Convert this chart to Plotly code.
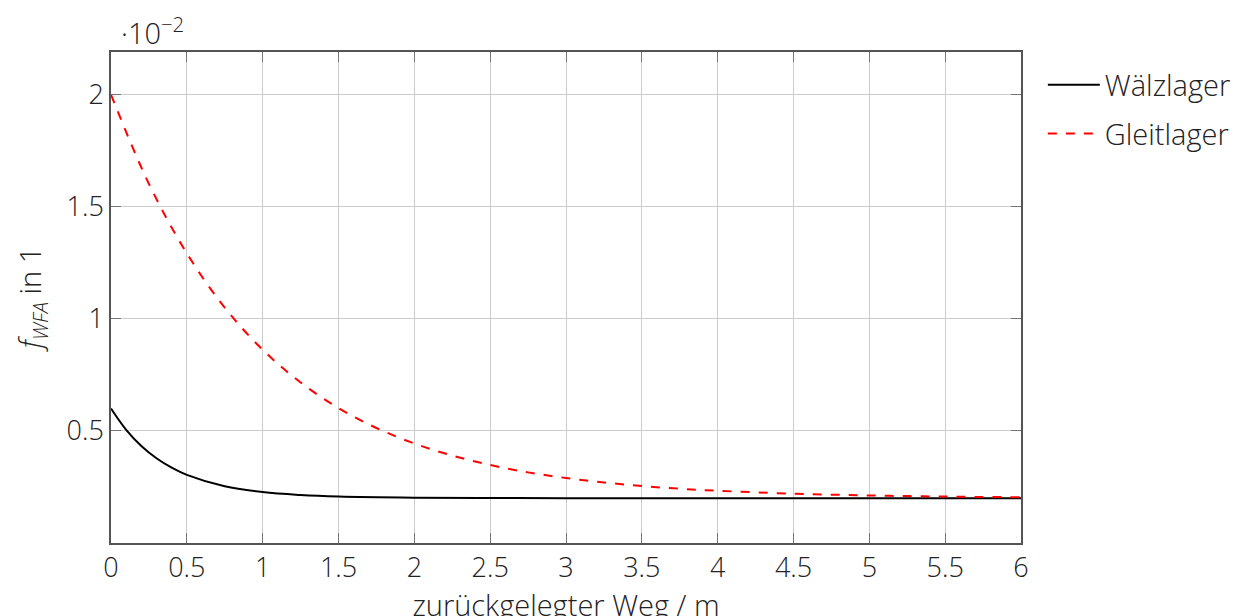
import plotly.graph_objects as go

# Data (values in units of 1e-2)
x_walz = [0, 0.1, 0.2, 0.3, 0.4, 0.5, 0.75, 1.0, 1.25, 1.5, 2.0, 2.5, 3.0, 4.0, 5.0, 6.0]
y_walz = [0.600, 0.505, 0.433, 0.378, 0.336, 0.304, 0.253, 0.227, 0.214, 0.207, 0.202, 0.2005, 0.200, 0.200, 0.200, 0.200]

x_gleit = [0, 0.25, 0.5, 0.75, 1.0, 1.25, 1.5, 1.75, 2.0, 2.25, 2.5, 2.75, 3.0, 3.25, 3.5, 3.75, 4.0, 4.5, 5.0, 5.5, 6.0]
y_gleit = [2.000, 1.602, 1.292, 1.050, 0.862, 0.716, 0.602, 0.513, 0.444, 0.390, 0.348, 0.315, 0.290, 0.270, 0.254, 0.242, 0.233, 0.220, 0.212, 0.207, 0.204]

x_ticks = [0, 0.5, 1, 1.5, 2, 2.5, 3, 3.5, 4, 4.5, 5, 5.5, 6]
y_ticks = [0.5, 1, 1.5, 2]

FONT = "Open Sans"
TXT = "#222222"
FS = 27
FT = 29

fig = go.Figure()
fig.add_trace(go.Scatter(x=x_walz, y=y_walz, mode="lines", name="Wälzlager", legendgroup="a",
                         line=dict(color="black", width=2, shape="spline")))
fig.add_trace(go.Scatter(x=x_gleit, y=y_gleit, mode="lines", name="Gleitlager", legendgroup="b",
                         line=dict(color="red", width=2, dash="dash", shape="spline")))

axis_common = dict(showline=True, linecolor="#555555", linewidth=1.5, mirror="ticks",
                   ticks="inside", ticklen=10, tickcolor="#777777", tickwidth=1,
                   showgrid=True, gridcolor="#cccccc", gridwidth=1, zeroline=False,
                   tickfont=dict(family=FONT, size=FS, color=TXT, weight=300))

fig.update_xaxes(range=[0, 6], tickvals=x_ticks, ticktext=[str(v) for v in x_ticks],
                 title=dict(text="zurückgelegter Weg / m", standoff=5,
                            font=dict(family=FONT, size=FT, color=TXT, weight=300)),
                 **axis_common)
fig.update_yaxes(range=[0, 2.19], tickvals=y_ticks, ticktext=["0.5", "1", "1.5", "2"],
                 title=dict(text="<i>f</i><sub><i>WFA</i></sub> in 1", standoff=16,
                            font=dict(family=FONT, size=FT, color=TXT, weight=300)),
                 **axis_common)

fig.add_annotation(text="·10<sup>−2</sup>", xref="paper", yref="paper", x=0.0, y=1.0,
                   xanchor="left", yanchor="bottom", yshift=-2, xshift=8, showarrow=False,
                   font=dict(family=FONT, size=FT, color=TXT, weight=300))

fig.update_layout(
    width=1242, height=616,
    margin=dict(l=103, r=229, t=44, b=81),
    plot_bgcolor="white", paper_bgcolor="white",
    font=dict(family=FONT, size=FS, color=TXT, weight=300),
    legend=dict(x=1.024, y=0.985, xanchor="left", yanchor="top", itemwidth=52,
                font=dict(family=FONT, size=FT, color=TXT, weight=300),
                bgcolor="rgba(0,0,0,0)", tracegroupgap=8),
    showlegend=True,
)

fig.write_html("out.html")
